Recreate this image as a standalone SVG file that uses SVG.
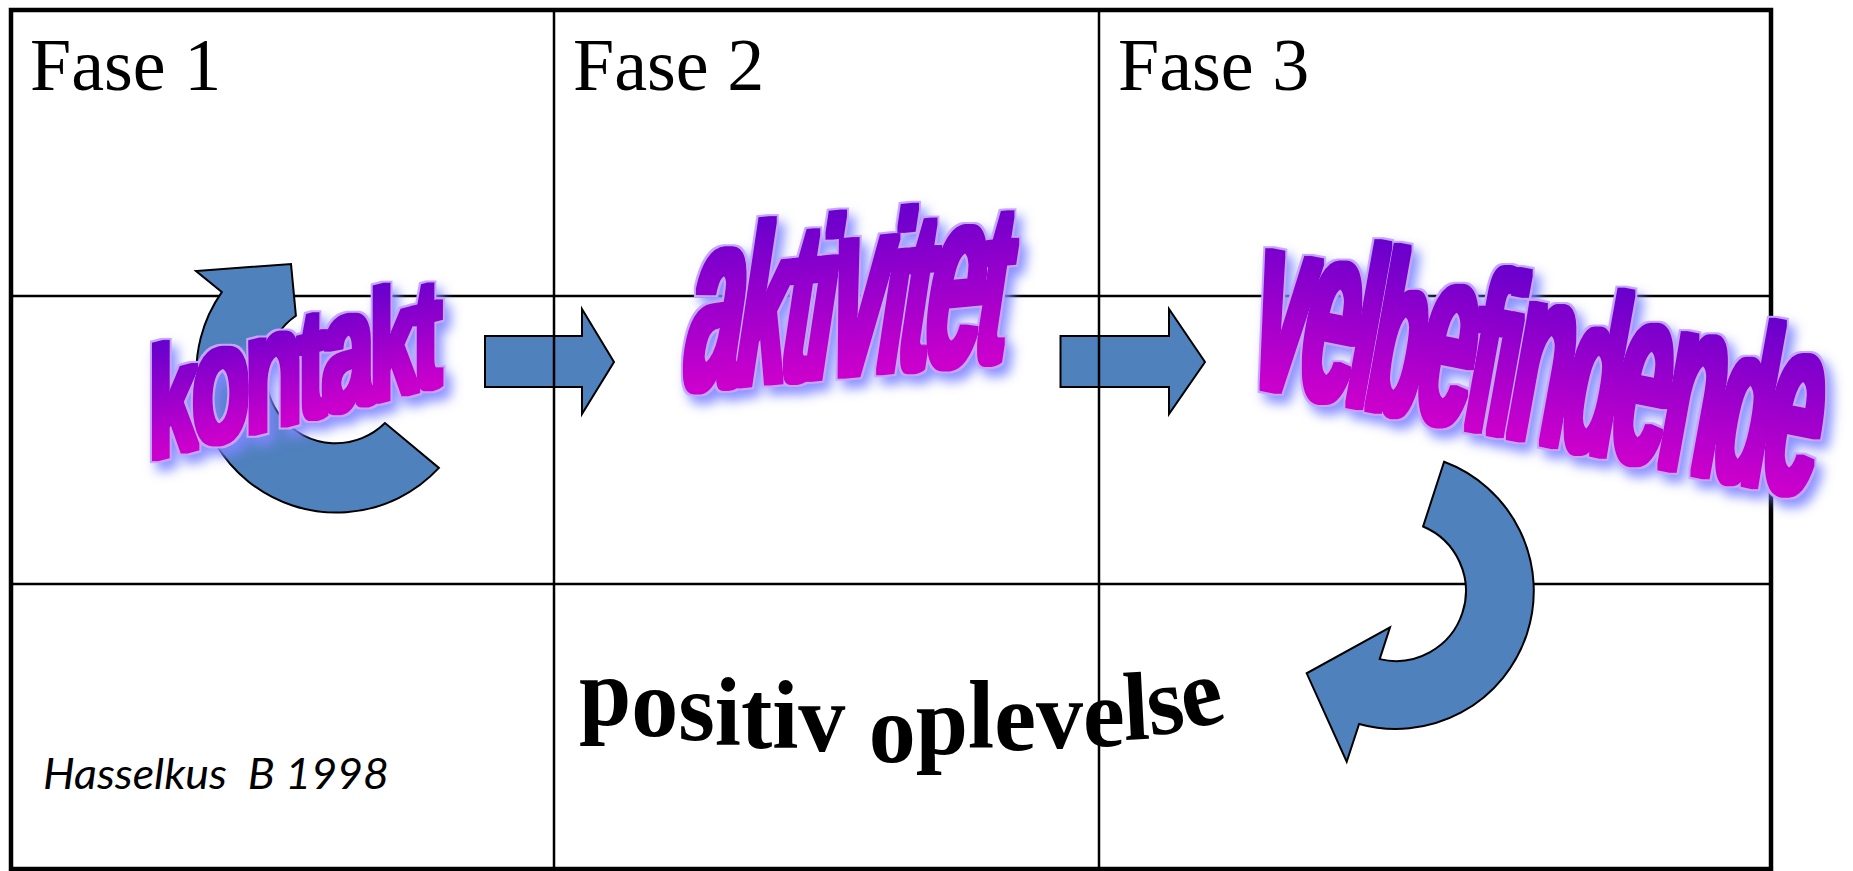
<svg xmlns="http://www.w3.org/2000/svg" width="1853" height="871" viewBox="0 0 1853 871">
<defs>
<style>
.frame{fill:none;stroke:#000;stroke-width:4.5}
.cell-line{fill:none;stroke:#000;stroke-width:2.5}
.arrow{fill:#4f81bd;stroke:#000;stroke-width:2;stroke-linejoin:miter}
.phase{font-family:"Liberation Serif","Times New Roman",serif;font-size:74px;fill:#000}
.wa{font-family:"Liberation Sans",Arial,sans-serif;font-weight:700;fill:url(#waGrad)}
.wave{font-family:"Liberation Serif","Times New Roman",serif;font-weight:700;font-size:97px;fill:#000}
.cite{font-family:Lato,"Liberation Sans",sans-serif;font-style:italic;font-size:43px;fill:#000}
</style>
<linearGradient id="waGrad" x1="0" y1="0" x2="0" y2="1">
<stop offset="0.22" stop-color="#6600cc"/>
<stop offset="0.82" stop-color="#cc00cc"/>
</linearGradient>
<filter id="wordart" x="-15%" y="-25%" width="135%" height="160%" color-interpolation-filters="sRGB">
<feMorphology in="SourceGraphic" operator="dilate" radius="2.9" result="thick"/>
<feMorphology in="SourceAlpha" operator="dilate" radius="4.7" result="ring"/>
<feFlood flood-color="#c4a6ff" result="lav"/>
<feComposite in="lav" in2="ring" operator="in" result="outline"/>
<feGaussianBlur in="ring" stdDeviation="6" result="blur"/>
<feOffset in="blur" dx="6" dy="8" result="blurOff"/>
<feFlood flood-color="#7f86ff" flood-opacity="0.9" result="blue"/>
<feComposite in="blue" in2="blurOff" operator="in" result="glow"/>
<feMerge><feMergeNode in="glow"/><feMergeNode in="outline"/><feMergeNode in="thick"/></feMerge>
</filter>
</defs>
<rect width="1853" height="871" fill="#fff"/>
<g id="table-frame">
<rect class="frame" x="11" y="10" width="1760" height="859"/>
<line class="cell-line" x1="11" y1="296" x2="1771" y2="296"/>
<line class="cell-line" x1="11" y1="584" x2="1771" y2="584"/>
</g>
<g id="connectors">
<path class="arrow" d="M485 336H582V309L614 362L582 414V387H485Z"/>
<path class="arrow" d="M1060.5 336H1169V309L1205 362L1169 414V387H1060.5Z"/>
<path class="arrow" d="M221.8 292.1L196 271L291 264L295.9 315.7A70 70 0 1 0 385 423L438.9 467.9A140 140 0 0 1 221.8 292.1Z"/>
<path class="arrow" d="M1444.1 461.7A138 138 0 0 1 1359.1 724L1346.7 761.7L1306.7 673.3L1390 627.3L1379.7 659.1A70 70 0 0 0 1423.1 526.5Z"/>
</g>
<g id="table-columns">
<line class="cell-line" x1="554" y1="10" x2="554" y2="869"/>
<line class="cell-line" x1="1099" y1="10" x2="1099" y2="869"/>
</g>
<g id="phase1"><text class="phase" x="30" y="90">Fase 1</text></g>
<g id="phase2"><text class="phase" x="573" y="90">Fase 2</text></g>
<g id="phase3"><text class="phase" x="1118" y="90">Fase 3</text></g>
<g id="citation"><text class="cite" x="43" y="789" textLength="346" lengthAdjust="spacingAndGlyphs" xml:space="preserve">Hasselkus  B 1998</text></g>
<g id="positiv-oplevelse"><text class="wave" x="579" y="725 736 740 745 748 748 751 755 762 754 748 750 748 746 740 736 730" rotate="0 0 0 0 0 0 0 0 0 0 0 0 0 0 -3 -8 -14" textLength="650" lengthAdjust="spacingAndGlyphs">positiv oplevelse</text></g>
<g id="kontakt" filter="url(#wordart)"><text class="wa" font-size="170" letter-spacing="-8" transform="matrix(0.552 -0.1435 0 1 149 459.8)"><tspan font-size="155">k</tspan>on<tspan font-size="155">t</tspan>a<tspan font-size="155">kt</tspan></text></g>
<g id="aktivitet" filter="url(#wordart)"><text class="wa" font-size="258" letter-spacing="-12" transform="matrix(0.394 -0.0365 -0.15 1 678.6 390.8)">a<tspan font-size="228">kti</tspan>v<tspan font-size="228">it</tspan>e<tspan font-size="228">t</tspan></text></g>
<g id="velbefindende" filter="url(#wordart)"><text class="wa" font-size="252" letter-spacing="-12" transform="matrix(0.383 0.0766 -0.18 1 1244 384)">ve<tspan font-size="225">lb</tspan>e<tspan font-size="225">fi</tspan>n<tspan font-size="225">d</tspan>en<tspan font-size="225">d</tspan>e</text></g>
</svg>
